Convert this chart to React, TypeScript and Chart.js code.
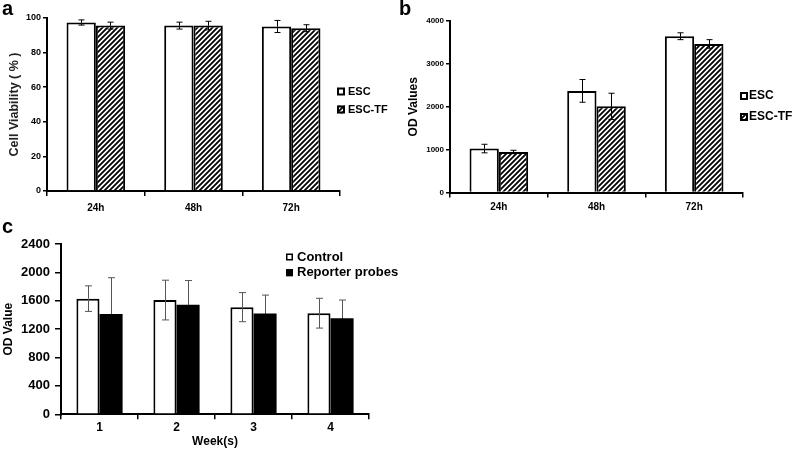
import React, { useEffect, useRef } from "react";
import { Chart, registerables } from "chart.js";

Chart.register(...registerables);

const FONT = "'Liberation Sans', Arial, Helvetica, sans-serif";
Chart.defaults.font.family = FONT;
Chart.defaults.color = "#000";

// ---------- Panel a: cell viability ----------
const timeLabels = ["24h", "48h", "72h"];
const viabilityESC = [97.4, 95.6, 95.1];
const viabilityESCErr = [1.5, 2, 3.5];
const viabilityTF = [95.6, 95.6, 94.1];
const viabilityTFErr = [2, 2.5, 2];
const viabilityMax = 100;
const viabilityStep = 20;

// ---------- Panel b: OD values ----------
const odESC = [1025, 2370, 3645];
const odESCErr = [100, 265, 80];
const odTF = [945, 2010, 3465];
const odTFErr = [40, 305, 100];
const odMax = 4000;
const odStep = 1000;

// ---------- Panel c: reporter probes over weeks ----------
const weekLabels = ["1", "2", "3", "4"];
const controlOD = [1630, 1610, 1510, 1425];
const controlErr = [180, 280, 205, 210];
const reporterOD = [1415, 1545, 1420, 1355];
const reporterErr = [510, 340, 260, 255];
const weekMax = 2400;
const weekStep = 400;

function makeHatch(): CanvasPattern | string {
  const c = document.createElement("canvas");
  const p = 5;
  c.width = p;
  c.height = p;
  const g = c.getContext("2d");
  if (!g) return "#888";
  g.fillStyle = "#fff";
  g.fillRect(0, 0, p, p);
  g.strokeStyle = "#000";
  g.lineWidth = 1.8;
  g.beginPath();
  g.moveTo(-1, p + 1);
  g.lineTo(p + 1, -1);
  g.moveTo(-1, 1);
  g.lineTo(1, -1);
  g.moveTo(p - 1, p + 1);
  g.lineTo(p + 1, p - 1);
  g.stroke();
  return g.createPattern(c, "repeat") || "#888";
}

const errorBarPlugin = {
  id: "errorBars",
  afterDatasetsDraw(chart: any, _args: any, opts: any) {
    const sets = opts && opts.sets;
    if (!sets) return;
    const ys = chart.scales.y;
    const ctx = chart.ctx;
    const cap = opts.cap || 3;
    sets.forEach((set: any, i: number) => {
      const meta = chart.getDatasetMeta(i);
      const data = chart.data.datasets[i].data;
      meta.data.forEach((el: any, j: number) => {
        const v = data[j] as number;
        const e = set.err[j] as number;
        const x = Math.round(el.x) + 0.5;
        const yTop = ys.getPixelForValue(v + e);
        const yVal = ys.getPixelForValue(v);
        const yBot = ys.getPixelForValue(v - e);
        ctx.save();
        ctx.lineWidth = opts.lineWidth || 1;
        ctx.strokeStyle = opts.color || "#000";
        ctx.beginPath();
        ctx.moveTo(x, yTop);
        ctx.lineTo(x, yVal);
        ctx.moveTo(x - cap, yTop);
        ctx.lineTo(x + cap, yTop);
        ctx.stroke();
        ctx.strokeStyle = set.lowerColor || opts.color || "#000";
        ctx.beginPath();
        ctx.moveTo(x, yVal);
        ctx.lineTo(x, yBot);
        ctx.moveTo(x - cap, yBot);
        ctx.lineTo(x + cap, yBot);
        ctx.stroke();
        ctx.restore();
      });
    });
  },
};

const boxLegendPlugin = {
  id: "boxLegend",
  afterDraw(chart: any, _args: any, opts: any) {
    if (!opts || !opts.display) return;
    const ctx = chart.ctx;
    const s = opts.box;
    chart.data.datasets.forEach((ds: any, i: number) => {
      const cy = opts.y + i * opts.gap;
      const x = opts.x;
      ctx.save();
      ctx.fillStyle = ds.backgroundColor;
      ctx.fillRect(x, cy - s / 2, s, s);
      ctx.lineWidth = opts.boxBorder;
      ctx.strokeStyle = "#000";
      const b = opts.boxBorder / 2;
      ctx.strokeRect(x + b, cy - s / 2 + b, s - 2 * b, s - 2 * b);
      ctx.font = `bold ${opts.fontSize}px ${FONT}`;
      ctx.textBaseline = "middle";
      ctx.textAlign = "left";
      ctx.fillStyle = "#000";
      ctx.fillText(ds.label, opts.textX, cy);
      ctx.restore();
    });
  },
};

function yScale(o: any) {
  return {
    min: 0,
    max: o.max,
    ticks: {
      stepSize: o.step,
      color: "#000",
      font: { size: o.tickSize, weight: "bold" },
      padding: o.tickPad,
      callback: (v: any) => String(v),
    },
    grid: {
      drawOnChartArea: false,
      drawTicks: true,
      tickLength: o.tickLen,
      color: "#000",
      lineWidth: 1.5,
    },
    border: { display: true, color: "#000", width: 2 },
    title: {
      display: true,
      text: o.title,
      color: o.titleColor || "#000",
      font: { size: o.titleSize, weight: "bold" },
      padding: { top: o.titlePad, bottom: 0 },
    },
    afterFit: (s: any) => {
      s.width = o.width;
    },
  };
}

function xScale(o: any) {
  return {
    type: "category",
    ticks: {
      color: "#000",
      font: { size: o.tickSize, weight: "bold" },
      padding: o.tickPad,
      maxRotation: 0,
    },
    grid: {
      offset: true,
      drawOnChartArea: false,
      drawTicks: true,
      tickLength: 5,
      color: "#000",
      lineWidth: 1.5,
    },
    border: { display: true, color: "#000", width: 2 },
    title: o.title
      ? {
          display: true,
          text: o.title,
          color: "#000",
          font: { size: o.titleSize, weight: "bold" },
          padding: { top: 0, bottom: o.titlePad },
        }
      : { display: false },
    afterFit: (s: any) => {
      s.height = o.height;
    },
  };
}

function configA(): any {
  const hatch = makeHatch();
  return {
    type: "bar",
    data: {
      labels: timeLabels,
      datasets: [
        {
          label: "ESC",
          data: viabilityESC,
          backgroundColor: "#fff",
          borderColor: "#000",
          borderWidth: 2,
        },
        {
          label: "ESC-TF",
          data: viabilityTF,
          backgroundColor: hatch,
          borderColor: "#000",
          borderWidth: 2,
        },
      ],
    },
    plugins: [errorBarPlugin, boxLegendPlugin],
    options: {
      responsive: false,
      animation: false,
      events: [],
      datasets: { bar: { categoryPercentage: 0.6, barPercentage: 1 } },
      layout: { padding: { top: 18, right: 60, bottom: 0, left: 0 } },
      scales: {
        x: xScale({ tickSize: 10, tickPad: 6, height: 29 }),
        y: yScale({
          max: viabilityMax,
          step: viabilityStep,
          tickSize: 9,
          tickPad: 2,
          tickLen: 4,
          width: 47,
          title: "Cell Viability ( % )",
          titleSize: 12.5,
          titlePad: 7,
          titleColor: "#222",
        }),
      },
      plugins: {
        legend: { display: false },
        tooltip: { enabled: false },
        errorBars: {
          sets: [{ err: viabilityESCErr }, { err: viabilityTFErr }],
          color: "#000",
          lineWidth: 1,
          cap: 3,
        },
        boxLegend: {
          display: true,
          x: 337,
          y: 91.5,
          gap: 18,
          box: 8,
          boxBorder: 2,
          textX: 348,
          fontSize: 11,
        },
      },
    },
  };
}

function configB(): any {
  const hatch = makeHatch();
  return {
    type: "bar",
    data: {
      labels: timeLabels,
      datasets: [
        {
          label: "ESC",
          data: odESC,
          backgroundColor: "#fff",
          borderColor: "#000",
          borderWidth: 2,
        },
        {
          label: "ESC-TF",
          data: odTF,
          backgroundColor: hatch,
          borderColor: "#000",
          borderWidth: 2,
        },
      ],
    },
    plugins: [errorBarPlugin, boxLegendPlugin],
    options: {
      responsive: false,
      animation: false,
      events: [],
      datasets: { bar: { categoryPercentage: 0.6, barPercentage: 1 } },
      layout: { padding: { top: 21, right: 57, bottom: 0, left: 0 } },
      scales: {
        x: xScale({ tickSize: 10, tickPad: 4, height: 27.5 }),
        y: yScale({
          max: odMax,
          step: odStep,
          tickSize: 8,
          tickPad: 2,
          tickLen: 4,
          width: 50,
          title: "OD Values",
          titleSize: 12,
          titlePad: 6,
        }),
      },
      plugins: {
        legend: { display: false },
        tooltip: { enabled: false },
        errorBars: {
          sets: [{ err: odESCErr }, { err: odTFErr }],
          color: "#000",
          lineWidth: 1,
          cap: 3,
        },
        boxLegend: {
          display: true,
          x: 340,
          y: 96,
          gap: 21,
          box: 8,
          boxBorder: 2,
          textX: 349,
          fontSize: 12,
        },
      },
    },
  };
}

function configC(): any {
  return {
    type: "bar",
    data: {
      labels: weekLabels,
      datasets: [
        {
          label: "Control",
          data: controlOD,
          backgroundColor: "#fff",
          borderColor: "#000",
          borderWidth: 2,
        },
        {
          label: "Reporter probes",
          data: reporterOD,
          backgroundColor: "#000",
          borderColor: "#000",
          borderWidth: 0,
        },
      ],
    },
    plugins: [errorBarPlugin, boxLegendPlugin],
    options: {
      responsive: false,
      animation: false,
      events: [],
      datasets: { bar: { categoryPercentage: 0.6, barPercentage: 1 } },
      layout: { padding: { top: 29, right: 31, bottom: 0, left: 0 } },
      scales: {
        x: xScale({
          tickSize: 12,
          tickPad: 1,
          height: 36.7,
          title: "Week(s)",
          titleSize: 12,
          titlePad: 2,
        }),
        y: yScale({
          max: weekMax,
          step: weekStep,
          tickSize: 13,
          tickPad: 5,
          tickLen: 6,
          width: 61,
          title: "OD Value",
          titleSize: 12,
          titlePad: 1,
        }),
      },
      plugins: {
        legend: { display: false },
        tooltip: { enabled: false },
        errorBars: {
          sets: [{ err: controlErr }, { err: reporterErr, lowerColor: "#000" }],
          color: "#555",
          lineWidth: 1,
          cap: 3.5,
        },
        boxLegend: {
          display: true,
          x: 286,
          y: 42,
          gap: 15.7,
          box: 7,
          boxBorder: 1.5,
          textX: 297,
          fontSize: 13,
        },
      },
    },
  };
}

function ChartCanvas(props: {
  make: () => any;
  left: number;
  top: number;
  width: number;
  height: number;
}) {
  const ref = useRef<HTMLCanvasElement | null>(null);
  useEffect(() => {
    if (!ref.current) return;
    const chart = new Chart(ref.current, props.make());
    return () => chart.destroy();
  }, []);
  return (
    <canvas
      ref={ref}
      width={props.width}
      height={props.height}
      style={{
        position: "absolute",
        left: props.left,
        top: props.top,
        width: props.width,
        height: props.height,
        display: "block",
      }}
    />
  );
}

const panelLabelStyle: React.CSSProperties = {
  position: "absolute",
  fontFamily: FONT,
  fontWeight: "bold",
  fontSize: 20,
  lineHeight: "20px",
  color: "#000",
};

export default function App() {
  return (
    <div
      style={{
        position: "fixed",
        left: 0,
        top: 0,
        width: 800,
        height: 451,
        background: "#fff",
        overflow: "hidden",
      }}
    >
      <ChartCanvas make={configA} left={0} top={0} width={400} height={220} />
      <ChartCanvas make={configB} left={400} top={0} width={400} height={220} />
      <ChartCanvas make={configC} left={0} top={215} width={400} height={236} />
      <div style={{ ...panelLabelStyle, left: 2, top: -2 }}>a</div>
      <div style={{ ...panelLabelStyle, left: 399, top: -2 }}>b</div>
      <div style={{ ...panelLabelStyle, left: 2, top: 216 }}>c</div>
    </div>
  );
}
